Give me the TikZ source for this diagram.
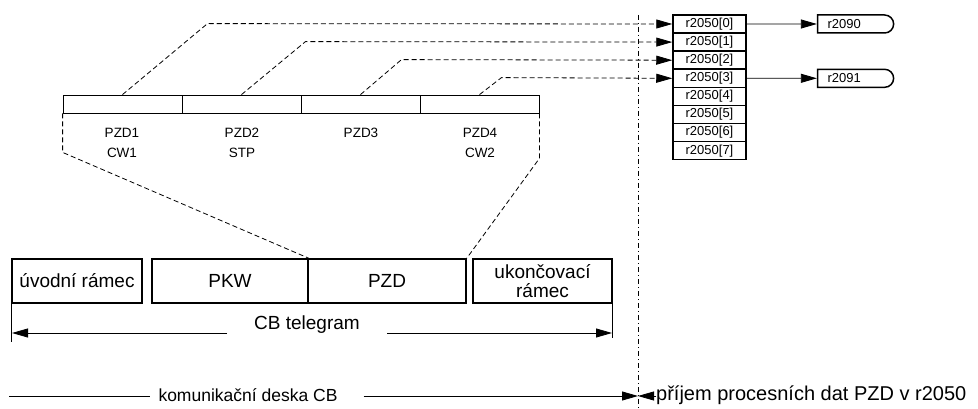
\documentclass[tikz,border=0pt]{standalone}
\usepackage{fontspec}
\setmainfont{Liberation Sans}
\usetikzlibrary{arrows.meta}
\usetikzlibrary{shapes.misc}

\begin{document}
\begin{tikzpicture}
			[x=1pt, y=-1pt,
			slot/.style={draw, line width=0.8pt, minimum width=119pt, minimum height=18pt, inner sep=0pt},
			frame/.style={draw, line width=1.5pt, minimum height=44pt, inner sep=0pt, font=\fontsize{19}{19}\selectfont, align=center},
			cell/.style={draw, line width=1.5pt, minimum width=73pt, minimum height=18.1pt, inner sep=0pt, font=\fontsize{13}{13}\selectfont},
			sink/.style={draw, line width=1.5pt, rounded rectangle, rounded rectangle west arc=none, minimum width=76pt, minimum height=18pt, inner sep=0pt, font=\fontsize{13}{13}\selectfont},
			small/.style={font=\fontsize{13.5}{20}\selectfont, align=center},
			big/.style={font=\fontsize{19}{19}\selectfont},
			tip/.style={-{Triangle[length=16pt, width=9pt]}, line width=0.8pt},
			link/.style={tip, dash pattern=on 5pt off 3pt}]
			
			\useasboundingbox (0,0) rectangle (978,409);
			
			% PZD slots
			\node[slot] (s1) at (122.5,104) {};
			\node[slot] (s2) at (241.5,104) {};
			\node[slot] (s3) at (360.5,104) {};
			\node[slot] (s4) at (479.5,104) {};
			
			\node[small] (l1) at (122,143) {PZD1\\CW1};
			\node[small] (l2) at (242,143) {PZD2\\STP};
			\node[small] (l3) at (361,133) {PZD3};
			\node[small] (l4) at (480,143) {PZD4\\CW2};
			
			% r2050 array
			\foreach \i in {0,...,7}
				\node[cell] (r\i) at (709.5,24+18.1*\i) {r2050[\i]};
			
			\node[sink] (o1) at (855,24) {\makebox[55pt][l]{r2090}};
			\node[sink] (o2) at (855,78.3) {\makebox[55pt][l]{r2091}};
			
			\draw[tip] (r0) -- (o1);
			\draw[tip] (r3) -- (o2);
			
			\draw[link] (s1.north) -- +(85,-71) -- (r0.west);
			\draw[link] (s2.north) -- +(64,-53) -- (r1.west);
			\draw[link] (s3.north) -- +(41,-35) -- (r2.west);
			\draw[link] (s4.north) -- +(22,-17) -- (r3.west);
			
			% telegram
			\node[frame, minimum width=130pt] (b1) at (77,281) {úvodní rámec};
			\node[frame, minimum width=156pt] (b2) at (230,281) {PKW};
			\node[frame, minimum width=158pt] (b3) at (387,281) {PZD};
			\node[frame, minimum width=139pt] (b4) at (542.5,281) {ukončovací\\rámec};
			
			\draw[line width=0.8pt, dash pattern=on 5pt off 3pt] (s1.south west) -- +(0,39) -- (b2.north east);
			\draw[line width=0.8pt, dash pattern=on 5pt off 3pt] (s4.south east) -- +(0,45) -- (b3.north east);
			
			\coordinate (tl) at (12,333);
			\coordinate (tr) at (612,333);
			\draw[line width=0.8pt] (b1.south west) -- +(0,38);
			\draw[line width=0.8pt] (b4.south east) -- +(0,34);
			\node[big, inner xsep=27pt] (tel) at (307,325) {CB telegram};
			\draw[tip] (tl -| tel.west) -- (tl);
			\draw[tip] (tl -| tel.east) -- (tr);
			
			% border
			\coordinate (t) at (638,15);
			\coordinate (m) at (638,396);
			\draw[line width=0.7pt, dash pattern=on 5pt off 3pt on 1pt off 3pt] (t) -- (638,409);
			
			\coordinate (w) at (9,396);
			\node[font=\fontsize{17.5}{17.5}\selectfont, inner xsep=8pt] (cb) at (248,395) {komunikační deska CB};
			\node[font=\fontsize{20}{20}\selectfont, anchor=west, inner xsep=0pt] (pr) at (656,395) {příjem procesních dat PZD v r2050};
			\draw[line width=0.8pt] (w) -- (cb.west |- w);
			\draw[tip] ([xshift=18pt]cb.east |- w) -- (m);
			\draw[tip] (pr.west |- m) -- (m);
		\end{tikzpicture}
\end{document}
